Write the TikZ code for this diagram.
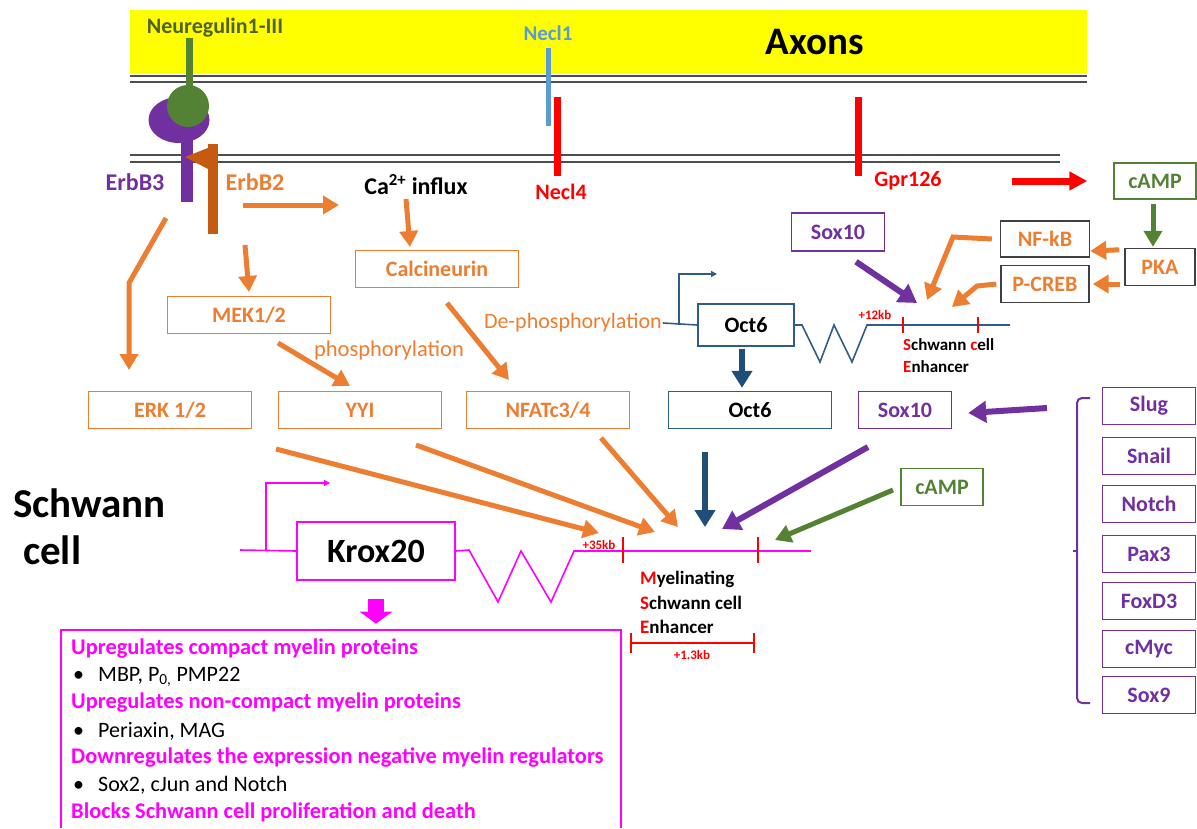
\documentclass[tikz,border=0pt]{standalone}
\usepackage{fontspec}
\setmainfont{Carlito}
\usetikzlibrary{positioning,arrows.meta,calc}

\definecolor{axonyellow}{HTML}{FFFF00}
\definecolor{sigorange}{HTML}{ED7D31}
\definecolor{erbbrown}{HTML}{C55A11}
\definecolor{sigpurple}{HTML}{7030A0}
\definecolor{siggreen}{HTML}{548235}
\definecolor{nrgtext}{HTML}{4F6228}
\definecolor{neclblue}{HTML}{5B9BD5}
\definecolor{octline}{HTML}{2E5C8A}
\definecolor{octarrow}{HTML}{1F4E79}
\definecolor{krox}{HTML}{FF00FF}
\definecolor{boxgray}{HTML}{404040}
\definecolor{membgray}{HTML}{4D4D4D}

\newcommand{\fsz}[1]{\fontsize{#1}{#1}\selectfont}

\begin{document}
\begin{tikzpicture}[x=1pt,y=-1pt,
  box/.style={rectangle, draw, line width=1.4pt, inner sep=0pt, minimum height=37pt, font={\fsz{22}\bfseries}},
  orbox/.style={box, draw=sigorange, text=sigorange, minimum width=163pt},
  pubox/.style={box, draw=sigpurple, text=sigpurple, minimum width=93pt},
  grbox/.style={box, draw=siggreen, text=siggreen, minimum width=82pt},
  gybox/.style={box, draw=boxgray, text=sigorange},
  ocbox/.style={box, draw=octline, text=black},
  lbl/.style={inner sep=0pt, font={\fsz{22}\bfseries}},
  small/.style={inner sep=0pt, font={\fsz{13}\bfseries}, text=red},
  enh/.style={inner sep=0pt, anchor=west, font={\fsz{17}\bfseries}},
  kroxtxt/.style={inner sep=0pt, anchor=west, font={\fsz{22.4}\bfseries}, text=krox},
  listtxt/.style={inner sep=0pt, anchor=west, font={\fsz{22}}},
  memb/.style={membgray, line width=1.5pt},
  tick/.style={red, line width=2pt},
  orfat/.style={sigorange, line width=5pt, -{Triangle[length=16pt,width=18pt]}},
  pufat/.style={sigpurple, line width=6pt, -{Triangle[length=18pt,width=21pt]}},
  grfat/.style={siggreen, line width=5pt, -{Triangle[length=16pt,width=18pt]}},
  ocfat/.style={octarrow, line width=6.5pt, -{Triangle[length=17pt,width=20pt]}},
  redfat/.style={red, line width=7pt, -{Triangle[length=18pt,width=18pt]}},
  octln/.style={octline, line width=1.6pt},
  kroxln/.style={krox, line width=1.6pt}]
  \useasboundingbox (0,0) rectangle (1197,828);

  % axon and membranes
  \fill[axonyellow] (130,10) rectangle (1087,74);
  \node[lbl, font={\fsz{39}\bfseries}] (axons) at (815,42) {Axons};
  \draw[memb] (130,76) -- (1087,76) (130,82) -- (1087,82);
  \draw[memb] (130,155) -- (1060,155) (130,162) -- (1060,162);

  % receptors
  \fill[sigpurple] (179,120) ellipse [x radius=30.5, y radius=23];
  \fill[sigpurple] (180.5,125) rectangle (193,202);
  \fill[siggreen] (186,38) rectangle (193,95);
  \fill[siggreen] (188,106) circle [radius=21];
  \fill[erbbrown] (208,144) rectangle (218,234);
  \fill[erbbrown] (218,144) -- (185,157) -- (208,169) -- cycle;
  \fill[neclblue] (545.5,48) rectangle (550.5,126);
  \fill[red] (554,97) rectangle (561,176);
  \fill[red] (855,97) rectangle (862,176);

  \node[lbl, font={\fsz{22}\bfseries}, text=nrgtext] (nrg) at (215,28) {Neuregulin1-III};
  \node[lbl, font={\fsz{21}\bfseries}, text=neclblue] (necla) at (548,33) {Necl1};
  \node[lbl, font={\fsz{24}\bfseries}, text=sigpurple] (erbthree) at (135,182) {ErbB3};
  \node[lbl, font={\fsz{24}\bfseries}, text=sigorange] (erbtwo) at (255,182) {ErbB2};
  \node[lbl, font={\fsz{24}\bfseries}] (caflux) at (416,185) {Ca\textsuperscript{2+} influx};
  \node[lbl, text=red] (necld) at (561,192) {Necl4};
  \node[lbl, text=red] (gpr) at (908,181) {Gpr126};

  % orange cascade
  \node[orbox] (calcin) at (437,269) {Calcineurin};
  \node[orbox] (mek) at (249,315) {MEK1/2};
  \node[orbox] (erk) at (170,410) {ERK 1/2};
  \node[orbox] (yyi) at (360,410) {YYI};
  \node[orbox] (nfat) at (548,410) {NFATc3/4};
  \node[inner sep=0pt, font=\fsz{22.5}, text=sigorange] (phos) at (389,350) {phosphorylation};

  % cAMP / PKA branch
  \node[grbox, minimum height=36pt] (camptop) at (1155,181) {cAMP};
  \node[gybox, minimum width=70pt] (pka) at (1160,267) {PKA};
  \node[gybox, minimum width=89pt, minimum height=36pt] (nfkb) at (1045,239) {NF-kB};
  \node[gybox, minimum width=88pt] (pcreb) at (1045,284) {P-CREB};
  \node[pubox, minimum height=38pt] (soxtop) at (838,232) {Sox10};

  % Oct6 gene
  \node[inner sep=1pt, anchor=east, font=\fsz{22}, text=sigorange] (dephos) at (663,323) {De-phosphorylation};
  \node[ocbox, minimum width=96pt, minimum height=42pt] (octgene) at (746,325) {Oct6};
  \coordinate (octtss) at (679,325);
  \draw[octln] (dephos.east) -- (octgene.west);
  \draw[octln, -{Triangle[length=6pt,width=6pt]}] (octtss) -- (679,274) -- (717,274);
  \draw[octln] (octgene.east) -- (802,325) -- (820,362) -- (834,325) -- (852,362) -- (867,325) -- (1010,325);
  \draw[tick] (903,317) -- (903,333) (978,317) -- (978,333);
  \node[small] (kbtwelve) at (875,315) {+12kb};
  \node[enh] (sceone) at (903,345) {\textcolor{red}{S}chwann \textcolor{red}{c}ell};
  \node[enh] (scetwo) at (903,367) {\textcolor{red}{E}nhancer};

  \node[ocbox, minimum width=163pt] (octprot) at (750,410) {Oct6};
  \node[pubox] (soxlow) at (905,410) {Sox10};
  \node[grbox] (camplow) at (942,487) {cAMP};

  % neural crest factors
  \node[pubox] (slug) at (1149,406) {Slug};
  \node[pubox] (snail) at (1149,456) {Snail};
  \node[pubox] (notch) at (1149,504) {Notch};
  \node[pubox] (pax) at (1149,554) {Pax3};
  \node[pubox] (foxd) at (1149,601) {FoxD3};
  \node[pubox] (cmyc) at (1149,649) {cMyc};
  \node[pubox] (soxnine) at (1149,695) {Sox9};
  \draw[sigpurple, line width=2pt, rounded corners=5pt] (1090,398) -- (1077,398) -- (1077,703) -- (1090,703);
  \draw[sigpurple, line width=2pt] (1077,551) -- (1073,551);

  % Krox20 gene
  \node[lbl, anchor=west, font={\fsz{41}\bfseries}] (schwann) at (13,503) {Schwann};
  \node[lbl, anchor=west, font={\fsz{41}\bfseries}] (cell) at (23,550) {cell};
  \node[box, draw=krox, minimum width=158pt, minimum height=58pt, font={\fsz{34}\bfseries}] (krox) at (376,551) {Krox20};
  \coordinate (kroxstart) at (240,550);
  \coordinate (kroxtss) at (266,550);
  \draw[kroxln] (kroxstart) -- (krox.west);
  \draw[kroxln, -{Triangle[length=6pt,width=6pt]}] (kroxtss) -- (266,483) -- (330,483);
  \draw[kroxln] (krox.east) -- (469,550) -- (498,602) -- (521,551) -- (551,602) -- (574,551) -- (811,551);
  \draw[tick] (623,537) -- (623,563) (758,537) -- (758,563);
  \node[small] (kbthirtyfive) at (599,545) {+35kb};
  \node[enh, font={\fsz{19}\bfseries}] (mseone) at (640,579) {\textcolor{red}{M}yelinating};
  \node[enh, font={\fsz{19}\bfseries}] (msetwo) at (640,603) {\textcolor{red}{S}chwann cell};
  \node[enh, font={\fsz{19}\bfseries}] (msethree) at (640,627) {\textcolor{red}{E}nhancer};
  \draw[tick] (631,643) -- (754,643) (631,633) -- (631,653) (754,633) -- (754,653);
  \node[small] (kbone) at (692,655) {+1.3kb};

  % Krox20 targets
  \draw[krox, line width=16pt, -{Triangle[length=12pt,width=32pt]}] ([yshift=-18pt]krox.south) -- ([yshift=-43pt]krox.south);
  \draw[krox, line width=1.5pt] (61,828) -- (61,630) -- (621,630) -- (621,828);
  \node[kroxtxt] (upone) at (71,649) {Upregulates compact myelin proteins};
  \node[listtxt] (uponelist) at (73,677) {\makebox[25pt][l]{\textbullet}MBP, P\textsubscript{0,} PMP22};
  \node[kroxtxt] (uptwo) at (71,703) {Upregulates non-compact myelin proteins};
  \node[listtxt] (uptwolist) at (73,731) {\makebox[25pt][l]{\textbullet}Periaxin, MAG};
  \node[kroxtxt] (down) at (71,758) {Downregulates the expression negative myelin regulators};
  \node[listtxt] (downlist) at (73,785) {\makebox[25pt][l]{\textbullet}Sox2, cJun and Notch};
  \node[kroxtxt] (blocks) at (71,812) {Blocks Schwann cell proliferation and death};

  % free ends of the arrows
  \coordinate (erbfork) at (166,218);
  \coordinate (erkbend) at (129,283);
  \coordinate (erkin) at (129,370);
  \coordinate (mekout) at (245,245);
  \coordinate (mekin) at (249,292);
  \coordinate (caout) at (243,205);
  \coordinate (cain) at (339,205);
  \coordinate (calcout) at (406,199);
  \coordinate (calcin) at (410,247);
  \coordinate (yyiout) at (278,343);
  \coordinate (yyiin) at (350,386);
  \coordinate (nfatout) at (447,303);
  \coordinate (nfatin) at (509,380);
  \coordinate (erkmse) at (276,449);
  \coordinate (yyimse) at (416,445);
  \coordinate (nfatmse) at (601,438);
  \coordinate (octmse) at (705,452);
  \coordinate (soxmse) at (868,447);
  \coordinate (campmse) at (893,490);
  \coordinate (mseone) at (599,533);
  \coordinate (msetwo) at (655,532);
  \coordinate (msethree) at (678,527);
  \coordinate (msefour) at (705,527);
  \coordinate (msefive) at (722,529);
  \coordinate (msesix) at (775,540);
  \coordinate (sceone) at (917,303);
  \coordinate (scetwo) at (927,300);
  \coordinate (scethree) at (952,307);
  \coordinate (nfkbbend) at (953,237);
  \coordinate (pcrebbend) at (977,286);
  \coordinate (crestout) at (1047,408);

  % arrows
  \draw[orfat] (erbfork) -- (erkbend) -- (erkin);
  \draw[orfat] (mekout) -- (mekin);
  \draw[orfat] (caout) -- (cain);
  \draw[orfat] (calcout) -- (calcin);
  \draw[orfat] (yyiout) -- (yyiin);
  \draw[orfat] (nfatout) -- (nfatin);
  \draw[orfat] (erkmse) -- (mseone);
  \draw[orfat] (yyimse) -- (msetwo);
  \draw[orfat] (nfatmse) -- (msethree);
  \draw[ocfat] (octmse) -- (msefour);
  \draw[pufat] (soxmse) -- (msefive);
  \draw[grfat] (campmse) -- (msesix);
  \draw[ocfat] ([xshift=-4pt,yshift=-2pt]octgene.south) -- ([xshift=-8pt,yshift=3pt]octprot.north);
  \draw[pufat] ([xshift=18pt,yshift=-10pt]soxtop.south) -- (sceone);
  \draw[orfat] ([xshift=-8pt]nfkb.west) -- (nfkbbend) -- (scetwo);
  \draw[orfat] ([xshift=-4pt]pcreb.west) -- (pcrebbend) -- (scethree);
  \draw[orfat] ([xshift=-5pt,yshift=-2pt]pka.north west) -- ([yshift=-12pt]nfkb.east);
  \draw[orfat] ([xshift=-4pt,yshift=-17pt]pka.west) -- ([xshift=3pt]pcreb.east);
  \draw[grfat] ([xshift=-2pt,yshift=-4pt]camptop.south) -- ([xshift=-7pt,yshift=1pt]pka.north);
  \draw[redfat] ([xshift=70pt]gpr.east) -- ([xshift=-26pt]camptop.west);
  \draw[pufat] (crestout) -- ([xshift=16pt,yshift=-3pt]soxlow.east);
\end{tikzpicture}
\end{document}
